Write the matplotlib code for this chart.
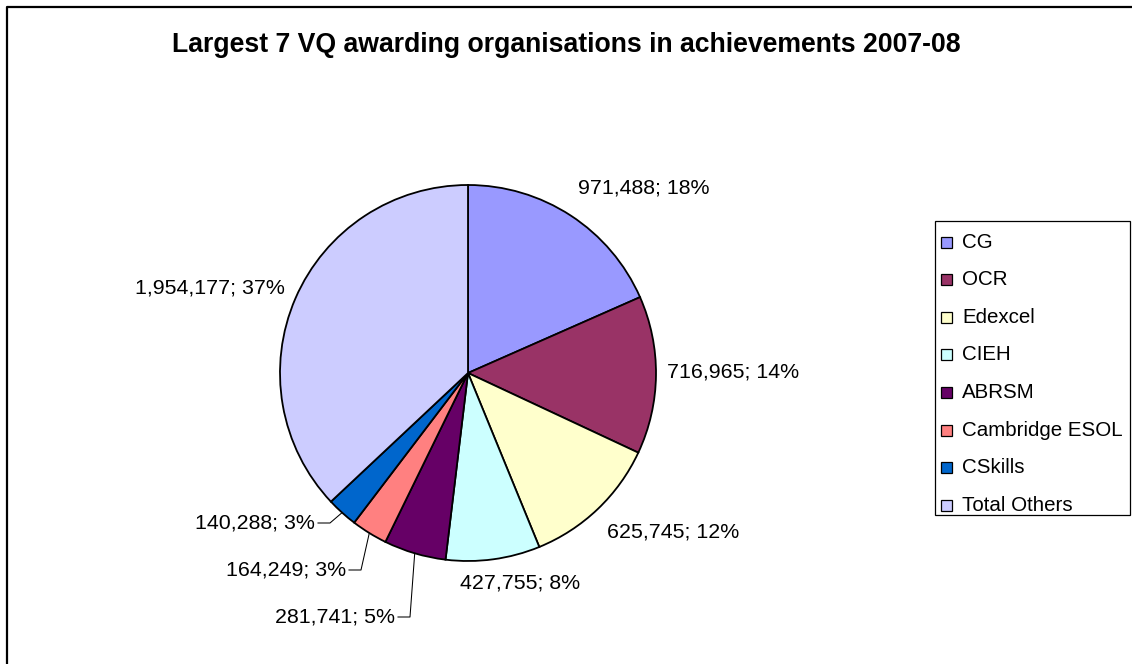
import numpy as np
import matplotlib
matplotlib.use('Agg')
import matplotlib.pyplot as plt
from matplotlib.patches import Rectangle

plt.rcParams['font.family'] = ['Liberation Sans', 'DejaVu Sans']

# data
orgs = ['CG', 'OCR', 'Edexcel', 'CIEH', 'ABRSM', 'Cambridge ESOL', 'CSkills', 'Total Others']
achievements = [971488, 716965, 625745, 427755, 281741, 164249, 140288, 1954177]
colours = ['#9999FF', '#993366', '#FFFFCC', '#CCFFFF', '#660066', '#FF8080', '#0066CC', '#CCCCFF']
title = 'Largest 7 VQ awarding organisations in achievements 2007-08'

W, H = 1132, 664
# label layout in pixel coords (x, y from top, ha)
label_pos = [(644, 188, 'center'), (667, 372, 'left'), (607, 532, 'left'),
             (460, 583, 'left'), (395, 617, 'right'), (346, 570, 'right'),
             (315, 523, 'right'), (285, 288, 'right')]
leader = [False, False, False, False, True, True, True, False]

fig = plt.figure(figsize=(W/100, H/100), dpi=100)
ax = fig.add_axes([0, 0, 1, 1])

cx, cy, r = 468, H - 373, 188
wedges, _ = ax.pie(achievements, colors=colours, startangle=90, counterclock=False,
                   center=(cx, cy), radius=r, frame=True,
                   wedgeprops=dict(edgecolor='black', linewidth=1.3))
ax.set_xlim(0, W)
ax.set_ylim(0, H)
ax.set_aspect('equal')
ax.axis('off')

total = float(sum(achievements))
for i, w in enumerate(wedges):
    val = achievements[i]
    txt = '{:,}; {:.0f}%'.format(val, 100*val/total)
    x, y, ha = label_pos[i]
    ax.text(x, H - y, txt, ha=ha, va='center', fontsize=15.4)
    if leader[i]:
        mid = np.deg2rad((w.theta1 + w.theta2) / 2.0)
        ex, ey = cx + r*np.cos(mid), cy + r*np.sin(mid)
        ax.plot([x + 3, x + 15, ex], [H - y, H - y, ey], color='black', lw=0.75)

# title
ax.text(566, H - 45, title, ha='center', va='center', fontsize=19.2, fontweight='bold')

# legend
ax.add_patch(Rectangle((935, H - 515), 195, 294, facecolor='white',
                       edgecolor='black', lw=0.9))
for i, (name, col) in enumerate(zip(orgs, colours)):
    ly = H - (242 + i*37.6)
    ax.add_patch(Rectangle((941, ly - 5.5), 11, 11, facecolor=col,
                           edgecolor='black', lw=0.9))
    ax.text(962, ly, name, ha='left', va='center', fontsize=14.8)

# chart border (top and left visible)
ax.plot([7, 7, W + 5], [-5, H - 7, H - 7], color='black', lw=1.6, clip_on=False)

fig.savefig('out.png', dpi=100)
